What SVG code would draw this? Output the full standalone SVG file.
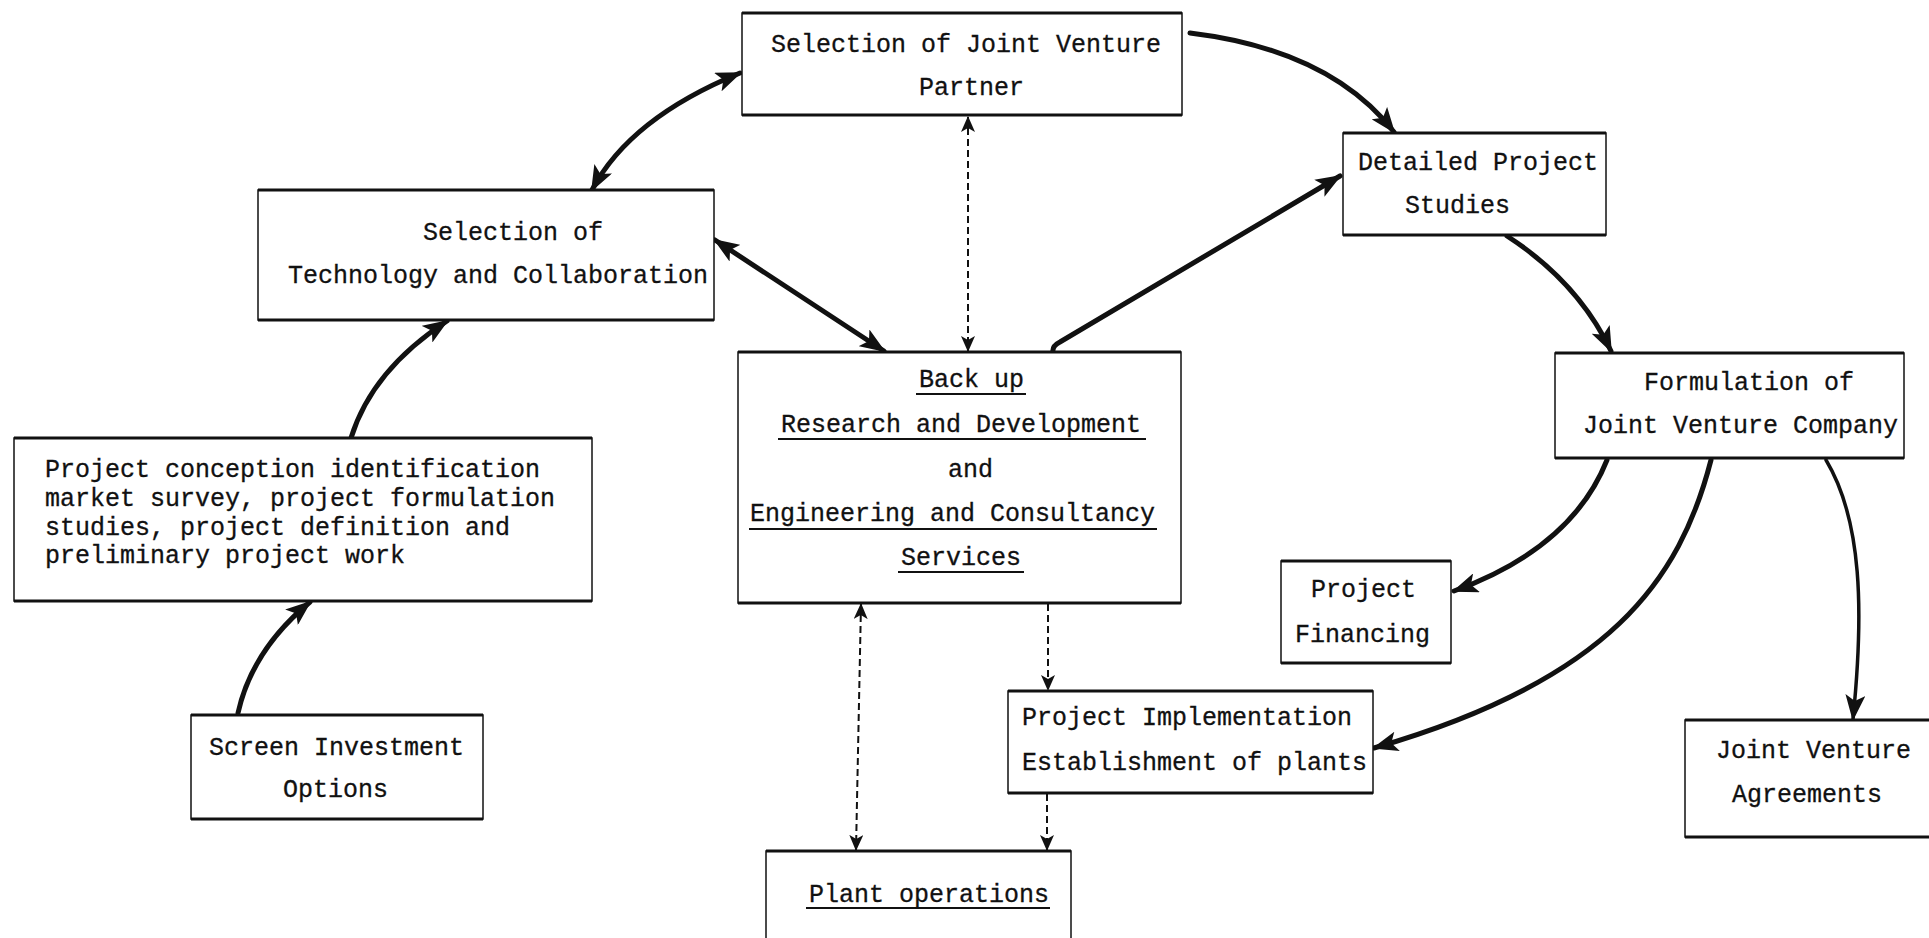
<svg xmlns="http://www.w3.org/2000/svg" width="1929" height="938" viewBox="0 0 1929 938">
<style>
.box{fill:#fff;stroke:#111;stroke-width:1.5}
.edge{stroke:#111;stroke-width:3;fill:none}
.t{font-family:"Liberation Mono","DejaVu Sans Mono",monospace;font-size:25px;fill:#111;stroke:#111;stroke-width:0.3}
.ul{stroke:#111;stroke-width:2}
.solid{stroke:#111;stroke-width:5;fill:none;stroke-linecap:round}
.dash{stroke:#111;stroke-width:2;fill:none;stroke-dasharray:7 4}
</style>
<defs>
<marker id="ah" viewBox="0 0 26 20" refX="24" refY="10" markerWidth="26" markerHeight="20" markerUnits="userSpaceOnUse" orient="auto-start-reverse">
<path d="M0,0 L26,10 L0,20 L6,10 z" fill="#111"/>
</marker>
<marker id="ahs" viewBox="0 0 16 14" refX="15" refY="7" markerWidth="16" markerHeight="14" markerUnits="userSpaceOnUse" orient="auto-start-reverse">
<path d="M0,0 L16,7 L0,14 L4,7 z" fill="#111"/>
</marker>
</defs>
<rect width="1929" height="938" fill="#fff"/>

<g id="connectors">
<path class="solid" d="M592 190 Q630 118 740 73" marker-start="url(#ah)" marker-end="url(#ah)"/>
<path class="solid" d="M715 240 L884 351" marker-start="url(#ah)" marker-end="url(#ah)"/>
<path class="dash" d="M968 117 L968 351" marker-start="url(#ahs)" marker-end="url(#ahs)"/>
<path class="solid" d="M1053 352 Q1052 346 1060 342 L1340 176" marker-end="url(#ah)"/>
<path class="solid" d="M1190 33 Q1330 50 1394 132" marker-end="url(#ah)"/>
<path class="solid" d="M1507 236 Q1578 282 1611 351" marker-end="url(#ah)"/>
<path class="solid" d="M1607 460 Q1572 548 1454 591" marker-end="url(#ah)"/>
<path class="solid" d="M1711 460 C1680 580 1610 680 1374 748" marker-end="url(#ah)"/>
<path class="solid" style="stroke-width:3.5" d="M1826 460 C1862 520 1864 610 1853 719" marker-end="url(#ah)"/>
<path class="solid" d="M351 438 Q372 370 447 321" marker-end="url(#ah)"/>
<path class="solid" d="M238 713 Q252 650 310 602" marker-end="url(#ah)"/>
<path class="dash" d="M861 604 L856 850" marker-start="url(#ahs)" marker-end="url(#ahs)"/>
<path class="dash" d="M1048 604 L1048 690" marker-end="url(#ahs)"/>
<path class="dash" d="M1047 794 L1047 850" marker-end="url(#ahs)"/>
</g>

<g id="jv-partner">
<rect class="box" x="742" y="13" width="440" height="102"/>
<path class="edge" d="M742 13 H1182 M742 115 H1182"/>
<text class="t" x="771" y="52">Selection of Joint Venture</text>
<text class="t" x="919" y="95">Partner</text>
</g>

<g id="detailed-studies">
<rect class="box" x="1343" y="133" width="263" height="102"/>
<path class="edge" d="M1343 133 H1606 M1343 235 H1606"/>
<text class="t" x="1358" y="170">Detailed Project</text>
<text class="t" x="1405" y="213">Studies</text>
</g>

<g id="formulation">
<rect class="box" x="1555" y="353" width="349" height="105"/>
<path class="edge" d="M1555 353 H1904 M1555 458 H1904"/>
<text class="t" x="1644" y="390">Formulation of</text>
<text class="t" x="1583" y="433">Joint Venture Company</text>
</g>

<g id="technology">
<rect class="box" x="258" y="190" width="456" height="130"/>
<path class="edge" d="M258 190 H714 M258 320 H714"/>
<text class="t" x="423" y="240">Selection of</text>
<text class="t" x="288" y="283">Technology and Collaboration</text>
</g>

<g id="conception">
<rect class="box" x="14" y="438" width="578" height="163"/>
<path class="edge" d="M14 438 H592 M14 601 H592"/>
<text class="t" x="45" y="477">Project conception identification</text>
<text class="t" x="45" y="506">market survey, project formulation</text>
<text class="t" x="45" y="535">studies, project definition and</text>
<text class="t" x="45" y="563">preliminary project work</text>
</g>

<g id="screen">
<rect class="box" x="191" y="715" width="292" height="104"/>
<path class="edge" d="M191 715 H483 M191 819 H483"/>
<text class="t" x="209" y="755">Screen Investment</text>
<text class="t" x="283" y="797">Options</text>
</g>

<g id="backup">
<rect class="box" x="738" y="352" width="443" height="251"/>
<path class="edge" d="M738 352 H1181 M738 603 H1181"/>
<text class="t" x="919" y="387">Back up</text>
<text class="t" x="781" y="432">Research and Development</text>
<text class="t" x="948" y="477">and</text>
<text class="t" x="750" y="521">Engineering and Consultancy</text>
<text class="t" x="901" y="565">Services</text>
<path class="ul" d="M916 394 H1026 M778 439 H1146 M749 529 H1157 M898 572 H1024"/>
</g>

<g id="implementation">
<rect class="box" x="1008" y="691" width="365" height="102"/>
<path class="edge" d="M1008 691 H1373 M1008 793 H1373"/>
<text class="t" x="1022" y="725">Project Implementation</text>
<text class="t" x="1022" y="770">Establishment of plants</text>
</g>

<g id="plant-operations">
<rect class="box" x="766" y="851" width="305" height="110"/>
<path class="edge" d="M766 851 H1071"/>
<text class="t" x="809" y="902">Plant operations</text>
<path class="ul" d="M806 908 H1050"/>
</g>

<g id="financing">
<rect class="box" x="1281" y="561" width="170" height="102"/>
<path class="edge" d="M1281 561 H1451 M1281 663 H1451"/>
<text class="t" x="1311" y="597">Project</text>
<text class="t" x="1295" y="642">Financing</text>
</g>

<g id="agreements">
<rect class="box" x="1685" y="720" width="260" height="117"/>
<path class="edge" d="M1685 720 H1945 M1685 837 H1945"/>
<text class="t" x="1716" y="758">Joint Venture</text>
<text class="t" x="1732" y="802">Agreements</text>
</g>
</svg>
